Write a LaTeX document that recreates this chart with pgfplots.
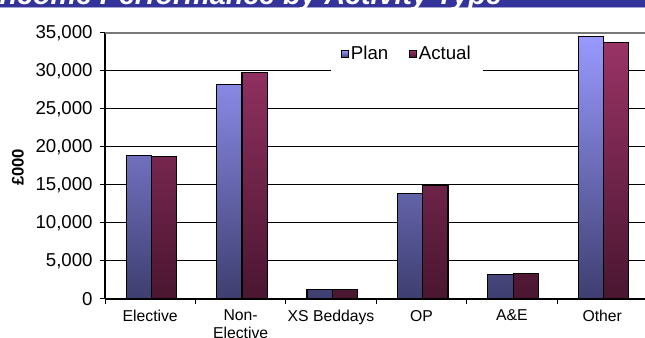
\documentclass[border=0pt]{standalone}
\usepackage{fontspec}
\setmainfont{Liberation Sans}
\usepackage{pgfplots}
\pgfplotsset{compat=1.18}

\definecolor{planTop}{HTML}{9999FF}
\definecolor{planBot}{HTML}{3E3E70}
\definecolor{actTop}{HTML}{993366}
\definecolor{actBot}{HTML}{4A1630}
\definecolor{bandBlue}{HTML}{333399}

\begin{document}
\begin{tikzpicture}
\useasboundingbox (0,0) rectangle (483.75pt,253.5pt);
\clip (0,0) rectangle (483.75pt,253.5pt);
% heading band
\fill[bandBlue] (0,248.5pt) rectangle (483.75pt,253.5pt);
\draw[bandBlue!45, line width=0.5pt] (0,248.3pt) -- (483.75pt,248.3pt);
\node[anchor=base west, text=white, inner sep=0,
      font=\fontsize{21.5pt}{22pt}\selectfont\bfseries\itshape]
  at (-6.5pt,250.1pt) {Income Performance by Activity Type};
% y-axis title
\node[rotate=90, font=\fontsize{12.5pt}{14pt}\selectfont\bfseries]
  at (13.5pt,128pt) {£000};
\begin{axis}[
  at={(78.75pt,29.25pt)}, anchor=south west,
  scale only axis, width=406.8pt, height=199.5pt,
  xmin=0, xmax=6, ymin=0, ymax=35000,
  axis lines=left, axis line style={-, black, line width=1.1pt},
  tick align=outside,
  major tick length=3.75pt,
  ytick={0,5000,...,30000},
  extra y ticks={35000},
  extra y tick style={grid style={gray!95!black, line width=1.1pt}},
  ymajorgrids, grid style={black, line width=0.75pt},
  tick style={black, line width=0.75pt},
  scaled y ticks=false,
  /pgf/number format/fixed,
  /pgf/number format/1000 sep={,},
  /pgf/number format/assume math mode=true,
  ticklabel style={font=\fontsize{14pt}{16pt}\selectfont},
  yticklabel style={xshift=-2pt},
  % ticks mark the category boundaries, names sit half a category to the right
  xtick={0,1,...,6},
  xticklabels={Elective,{Non-\\Elective},XS Beddays,OP,A\&E,Other,{}},
  xticklabel style={font=\fontsize{11.8pt}{13pt}\selectfont, align=center,
    anchor=north, xshift=33.9pt, yshift=-1pt},
  legend style={at={(axis cs:3.34,32237)}, anchor=center, draw=none, fill=white,
    font=\fontsize{14pt}{16pt}\selectfont, inner xsep=8pt, inner ysep=6pt,
    /tikz/every even column/.append style={column sep=14pt},
    nodes={inner xsep=1.5pt}},
  legend columns=2,
]
\addplot[ybar, bar width=0.28, bar shift=0pt, draw=black, line width=0.9pt,
  top color=planTop, bottom color=planBot,
  legend image code/.code={\draw[draw=black, line width=0.6pt, top color=planTop, bottom color=planBot] (0pt,-2.6pt) rectangle (5.25pt,2.6pt);}]
  coordinates {(0.375,18900) (1.375,28200) (2.375,1300) (3.375,13900) (4.375,3200) (5.375,34500)};
\addlegendentry{Plan}
\addplot[ybar, bar width=0.28, bar shift=0pt, draw=black, line width=0.9pt,
  top color=actTop, bottom color=actBot,
  legend image code/.code={\draw[draw=black, line width=0.6pt, top color=actTop, bottom color=actBot] (0pt,-2.6pt) rectangle (5.25pt,2.6pt);}]
  coordinates {(0.655,18700) (1.655,29800) (2.655,1300) (3.655,15000) (4.655,3400) (5.655,33800)};
\addlegendentry{Actual}
\end{axis}
\end{tikzpicture}
\end{document}
